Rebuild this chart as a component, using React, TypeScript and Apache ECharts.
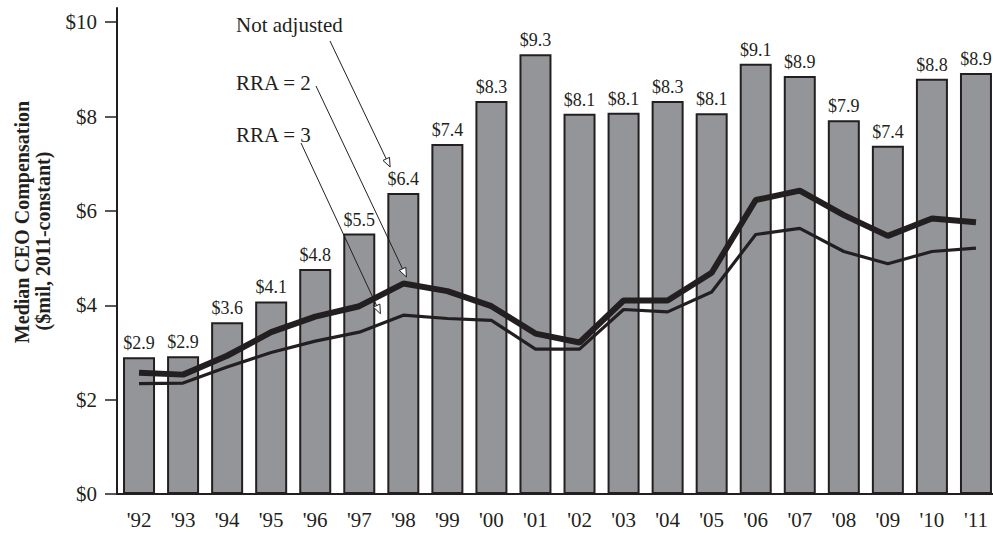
import React, { useEffect, useRef } from "react";
import * as echarts from "echarts";

const years = ["'92", "'93", "'94", "'95", "'96", "'97", "'98", "'99", "'00", "'01", "'02", "'03", "'04", "'05", "'06", "'07", "'08", "'09", "'10", "'11"];
const notAdjusted = [2.9, 2.92, 3.64, 4.08, 4.77, 5.52, 6.38, 7.42, 8.33, 9.32, 8.06, 8.08, 8.33, 8.07, 9.12, 8.86, 7.92, 7.38, 8.8, 8.92];
const rra2 = [2.57, 2.53, 2.93, 3.43, 3.76, 3.98, 4.46, 4.3, 3.98, 3.4, 3.21, 4.1, 4.1, 4.69, 6.23, 6.43, 5.91, 5.47, 5.84, 5.76];
const rra3 = [2.34, 2.35, 2.69, 3.0, 3.24, 3.43, 3.79, 3.72, 3.68, 3.07, 3.07, 3.91, 3.86, 4.28, 5.5, 5.63, 5.14, 4.88, 5.14, 5.21];
const yTicks = [0, 2, 4, 6, 8, 10];
const axisTitle = ["Median CEO Compensation", "($mil, 2011-constant)"];
const annotationLabels = ["Not adjusted", "RRA = 2", "RRA = 3"];

// layout of the annotations (text anchor, pointer start in pixels, pointer tip in data space)
const annotationLayout = [
  { tx: 236, ty: 25, sx: 330, sy: 41, tip: [5.7, 6.93] },
  { tx: 236, ty: 83, sx: 316, sy: 86, tip: [6.07, 4.6] },
  { tx: 236, ty: 135, sx: 301, sy: 143, tip: [5.48, 3.82] },
];

const INK = "#231f20";
const SERIF = '"Liberation Serif", "Times New Roman", serif';

export default function App() {
  const ref = useRef<HTMLDivElement>(null);
  useEffect(() => {
    if (!ref.current) return;
    const chart = echarts.init(ref.current, undefined, { renderer: "svg" });
    chart.setOption({
      animation: false,
      backgroundColor: "#ffffff",
      grid: { left: 117, right: 0, top: 8, bottom: 39, containLabel: false },
      xAxis: {
        type: "category",
        data: years,
        boundaryGap: true,
        axisLine: { show: true, lineStyle: { color: INK, width: 2 } },
        axisTick: { show: false },
        axisLabel: { color: INK, fontFamily: SERIF, fontSize: 21, margin: 15 },
      },
      yAxis: {
        type: "value",
        min: 0,
        max: 10.3,
        interval: 2,
        splitLine: { show: false },
        axisLine: { show: true, lineStyle: { color: INK, width: 2 } },
        axisTick: { show: true, length: 12, lineStyle: { color: INK, width: 1.5 }, customValues: yTicks },
        axisLabel: {
          color: INK,
          fontFamily: SERIF,
          fontSize: 21,
          margin: 20,
          customValues: yTicks,
          formatter: (v: number) => "$" + v,
        },
      },
      series: [
        {
          type: "bar",
          data: notAdjusted,
          barWidth: 32,
          itemStyle: { color: "#939598", borderColor: INK, borderWidth: 2 },
          label: {
            show: true,
            position: "top",
            distance: 5,
            color: INK,
            fontFamily: SERIF,
            fontSize: 18,
            formatter: (p: any) => "$" + Number(p.value).toFixed(1),
          },
          z: 2,
        },
        {
          type: "line",
          data: rra2,
          symbol: "none",
          lineStyle: { color: INK, width: 6 },
          z: 4,
        },
        {
          type: "line",
          data: rra3,
          symbol: "none",
          lineStyle: { color: INK, width: 3.2 },
          z: 3,
        },
      ],
    });

    const toPx = (xi: number, v: number) => {
      const i0 = Math.floor(xi);
      const i1 = Math.min(i0 + 1, years.length - 1);
      const p0 = chart.convertToPixel({ gridIndex: 0 }, [i0, v]) as number[];
      const p1 = chart.convertToPixel({ gridIndex: 0 }, [i1, v]) as number[];
      const t = xi - i0;
      return [p0[0] + (p1[0] - p0[0]) * t, p0[1]];
    };

    const graphics: any[] = [];
    annotationLabels.forEach((label, i) => {
      const a = annotationLayout[i];
      const [tx, ty] = toPx(a.tip[0], a.tip[1]);
      const dx = tx - a.sx;
      const dy = ty - a.sy;
      const len = Math.sqrt(dx * dx + dy * dy);
      const ux = dx / len;
      const uy = dy / len;
      const L = 9;
      const H = 3.6;
      const bx = tx - ux * L;
      const by = ty - uy * L;
      graphics.push({
        type: "text",
        x: a.tx,
        y: a.ty,
        style: { text: label, fill: INK, fontFamily: SERIF, fontSize: 21, align: "left", verticalAlign: "middle" },
        z: 10,
      });
      graphics.push({
        type: "line",
        shape: { x1: a.sx, y1: a.sy, x2: bx, y2: by },
        style: { stroke: INK, lineWidth: 1 },
        z: 10,
      });
      graphics.push({
        type: "polygon",
        shape: {
          points: [
            [tx, ty],
            [bx - uy * H, by + ux * H],
            [bx + uy * H, by - ux * H],
          ],
        },
        style: { fill: "#ffffff", stroke: INK, lineWidth: 1 },
        z: 10,
      });
    });
    graphics.push({
      type: "text",
      x: 22,
      y: 222,
      rotation: Math.PI / 2,
      style: { text: axisTitle[0], fill: INK, fontFamily: SERIF, fontWeight: "bold", fontSize: 20, align: "center", verticalAlign: "middle" },
    });
    graphics.push({
      type: "text",
      x: 43,
      y: 241,
      rotation: Math.PI / 2,
      style: { text: axisTitle[1], fill: INK, fontFamily: SERIF, fontWeight: "bold", fontSize: 20, align: "center", verticalAlign: "middle" },
    });
    chart.setOption({ graphic: graphics });

    return () => chart.dispose();
  }, []);

  return (
    <div style={{ position: "fixed", left: 0, top: 0, width: 993, height: 533, overflow: "hidden", background: "#fff" }}>
      <div ref={ref} style={{ width: 998, height: 533 }} />
    </div>
  );
}
